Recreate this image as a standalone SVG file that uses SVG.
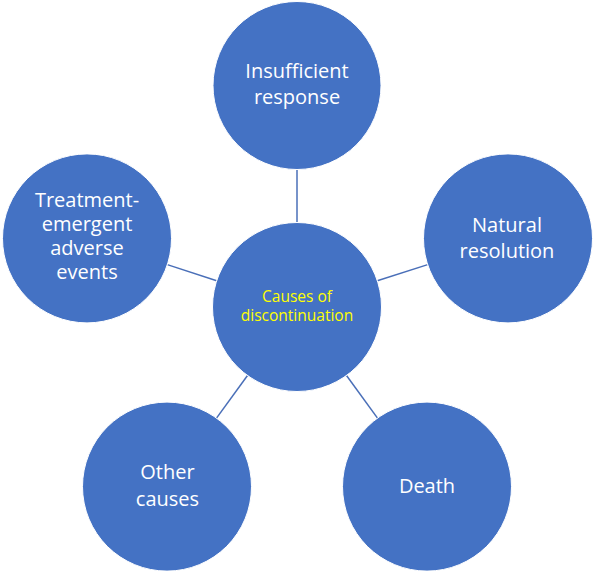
<svg xmlns="http://www.w3.org/2000/svg" width="594" height="573" viewBox="0 0 594 573">
<style>
.node{fill:#4472C4;stroke:#ffffff;stroke-width:1}
.lbl{font-family:"Open Sans","Noto Sans","Liberation Sans",sans-serif;font-size:20px;fill:#ffffff;text-anchor:middle}
.ctr{font-family:"Open Sans","Noto Sans","Liberation Sans",sans-serif;font-size:15.5px;fill:#ffff00;text-anchor:middle}
.conn line{stroke:#4a6fb8;stroke-width:1.5}
</style>
<rect width="594" height="573" fill="#ffffff"/>
<g id="connectors" class="conn">
<line x1="297" y1="169.5" x2="297" y2="222.5"/>
<line x1="167.3" y1="264.6" x2="216.7" y2="280.8"/>
<line x1="377.3" y1="280.8" x2="427.7" y2="264.6"/>
<line x1="247.5" y1="375.5" x2="216.5" y2="418.1"/>
<line x1="346.5" y1="375.5" x2="377.5" y2="418.1"/>
</g>
<g id="center">
<circle class="node" cx="297" cy="307" r="84.5"/>
<text class="ctr" x="297" y="301.5">Causes of</text>
<text class="ctr" x="297" y="321">discontinuation</text>
</g>
<g id="insufficient-response">
<circle class="node" cx="297" cy="85.5" r="84"/>
<text class="lbl" x="297" y="77.5">Insufficient</text>
<text class="lbl" x="297" y="103.5">response</text>
</g>
<g id="natural-resolution">
<circle class="node" cx="508" cy="238.4" r="84.5"/>
<text class="lbl" x="507" y="231.7">Natural</text>
<text class="lbl" x="507" y="258">resolution</text>
</g>
<g id="treatment-emergent">
<circle class="node" cx="87" cy="238.4" r="84.5"/>
<text class="lbl" x="87" y="207">Treatment-</text>
<text class="lbl" x="87" y="231">emergent</text>
<text class="lbl" x="87" y="255">adverse</text>
<text class="lbl" x="87" y="279">events</text>
</g>
<g id="other-causes">
<circle class="node" cx="167" cy="486.6" r="84.5"/>
<text class="lbl" x="167.5" y="479.3">Other</text>
<text class="lbl" x="167.5" y="505.7">causes</text>
</g>
<g id="death">
<circle class="node" cx="427" cy="486.6" r="84.5"/>
<text class="lbl" x="427" y="493.3">Death</text>
</g>
</svg>
